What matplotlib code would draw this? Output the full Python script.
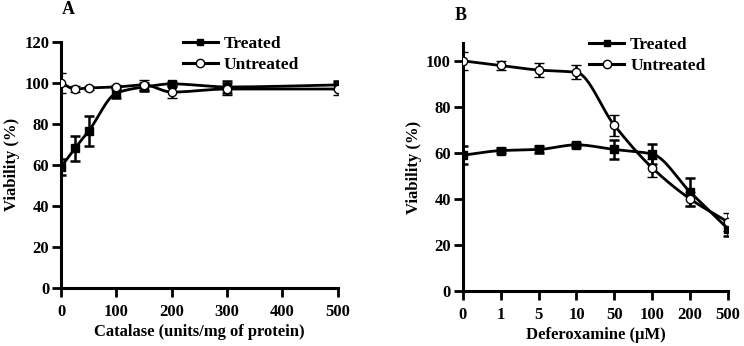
import numpy as np
import matplotlib
matplotlib.use('Agg')
import matplotlib.pyplot as plt

# données
catalase = [0, 25, 50, 100, 150, 200, 300, 500]
a_treated = [59, 68, 76.5, 95, 98, 99.5, 98, 99]
a_treated_err = [4, 6, 7.5, 2.5, 2, 1, 3, 2]
a_untreated = [100, 97, 97.5, 98, 99, 95.5, 97, 97]
a_untreated_err = [5, 1.5, 1, 1, 2.5, 3, 3, 3]

deferox_labels = ['0', '1', '5', '10', '50', '100', '200', '500']
b_treated = [59, 61, 61.5, 63.5, 61.5, 59.5, 43, 27]
b_treated_err = [4, 1, 1.5, 1, 4, 4.5, 6, 3]
b_untreated = [100, 98, 96, 95, 72, 53.5, 40, 30]
b_untreated_err = [4, 2, 3, 3, 4.5, 4, 3, 4]


# courbe lissée (pchip) entre les points mesurés
def pchip(x, y, n=400):
    x = np.asarray(x, float)
    y = np.asarray(y, float)
    h = np.diff(x)
    d = np.diff(y) / h
    m = np.zeros_like(y)
    for k in range(1, len(x) - 1):
        if d[k - 1] * d[k] > 0:
            w1 = 2 * h[k] + h[k - 1]
            w2 = h[k] + 2 * h[k - 1]
            m[k] = (w1 + w2) / (w1 / d[k - 1] + w2 / d[k])
    m[0] = d[0]
    m[-1] = d[-1]
    xs = np.linspace(x[0], x[-1], n)
    idx = np.clip(np.searchsorted(x, xs) - 1, 0, len(x) - 2)
    t = (xs - x[idx]) / h[idx]
    h00 = 2 * t**3 - 3 * t**2 + 1
    h10 = t**3 - 2 * t**2 + t
    h01 = -2 * t**3 + 3 * t**2
    h11 = t**3 - t**2
    ys = h00 * y[idx] + h10 * h[idx] * m[idx] + h01 * y[idx + 1] + h11 * h[idx] * m[idx + 1]
    return xs, ys


plt.rcParams['font.family'] = 'Liberation Serif'
plt.rcParams['font.weight'] = 'bold'
plt.rcParams['axes.labelweight'] = 'bold'

fig = plt.figure(figsize=(7.44, 3.46), dpi=100)
ax_a = fig.add_axes([0.082, 0.168, 0.372, 0.711])
ax_b = fig.add_axes([0.622, 0.159, 0.3565, 0.717])


def tracer(ax, x, y1, e1, y2, e2, leg_x):
    xs, ys = pchip(x, y1)
    ax.plot(xs, ys, color='black', lw=2)
    xs, ys = pchip(x, y2)
    ax.plot(xs, ys, color='black', lw=2)
    ax.errorbar(x, y1, yerr=e1, fmt='s', color='black', ms=5.5, ecolor='black',
                elinewidth=1.8, capsize=3.5, capthick=1.8, zorder=3)
    ax.errorbar(x, y2, yerr=e2, fmt='o', mfc='white', mec='black', mew=1, ms=6,
                ecolor='black', elinewidth=1.8, capsize=3.5, capthick=1.8, zorder=4)
    # poignées de légende
    h1, = ax.plot([], [], '-s', color='black', lw=2.2, ms=5)
    h2, = ax.plot([], [], '-o', color='black', mfc='white', mew=1, lw=2.2, ms=6)
    ax.legend([h1, h2], ['Treated', 'Untreated'], frameon=False,
              loc='upper left', bbox_to_anchor=(leg_x, 1.054), handlelength=2.0,
              handletextpad=0.35, labelspacing=0.3, borderaxespad=0,
              prop={'weight': 'bold', 'size': 12.5})
    for s in ['top', 'right']:
        ax.spines[s].set_visible(False)
    for s in ['left', 'bottom']:
        ax.spines[s].set_linewidth(2.2)
    ax.tick_params(direction='out', length=6.5, width=2, labelsize=12)
    ax.tick_params(axis='x', pad=5)
    ax.tick_params(axis='y', pad=2)
    ax.set_ylabel('Viability (%)', fontsize=12, labelpad=3)


tracer(ax_a, catalase, a_treated, a_treated_err, a_untreated, a_untreated_err, 0.415)
ax_a.set_xlim(0, 500)
ax_a.set_ylim(0, 120)
ax_a.set_xticks([0, 100, 200, 300, 400, 500])
ax_a.set_yticks([0, 20, 40, 60, 80, 100, 120])
ax_a.set_xlabel('Catalase (units/mg of protein)', fontsize=12, labelpad=3)
for lab in ax_a.get_xticklabels() + ax_a.get_yticklabels():
    lab.set_fontweight('bold')

pos = np.arange(len(deferox_labels))
tracer(ax_b, pos, b_treated, b_treated_err, b_untreated, b_untreated_err, 0.451)
ax_b.set_xlim(0, len(deferox_labels) - 1)
ax_b.set_ylim(0, 107.8)
ax_b.set_xticks(pos)
ax_b.set_xticklabels(deferox_labels)
ax_b.set_yticks([0, 20, 40, 60, 80, 100])
ax_b.set_xlabel('Deferoxamine (\u03bcM)', fontsize=12, labelpad=3)
for lab in ax_b.get_xticklabels() + ax_b.get_yticklabels():
    lab.set_fontweight('bold')

# lettres des panneaux
fig.text(62 / 744, 1 - 10 / 346, 'A', fontsize=13, fontweight='bold', ha='left', va='center')
fig.text(455 / 744, 1 - 15 / 346, 'B', fontsize=13, fontweight='bold', ha='left', va='center')

fig.savefig('out.png', dpi=100)
